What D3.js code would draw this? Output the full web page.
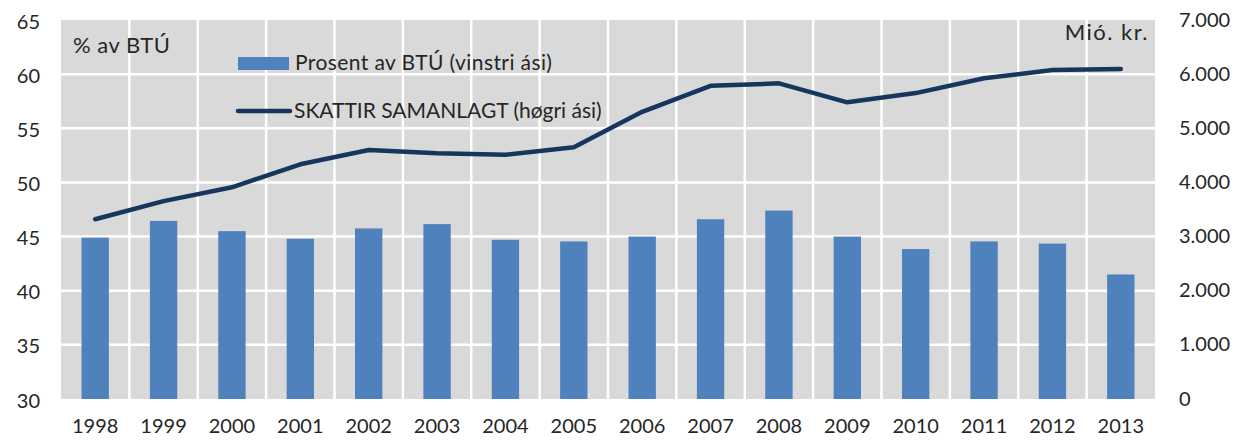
<!DOCTYPE html>
<meta charset="utf-8">
<head>
  <style>
    body { margin: 0; background: #fff; }
    text { font-family: Lato, "Open Sans", sans-serif; fill: #262626; }
  </style>
</head>
<body>
  <div class="chart"></div>
  <script src="https://d3js.org/d3.v7.min.js"></script>
  <script>
    // ár
    var years = ["1998", "1999", "2000", "2001", "2002", "2003", "2004", "2005",
      "2006", "2007", "2008", "2009", "2010", "2011", "2012", "2013"];
    // Prosent av BTÚ (vinstri ási)
    var prosent = [44.9, 46.45, 45.5, 44.8, 45.75, 46.15, 44.7, 44.55,
      45.0, 46.6, 47.4, 45.0, 43.85, 44.55, 44.35, 41.5];
    // SKATTIR SAMANLAGT (høgri ási), mió. kr.
    var skattir = [3320, 3655, 3910, 4335, 4600, 4540, 4510, 4650,
      5305, 5785, 5830, 5480, 5650, 5925, 6075, 6095];
    var leftTicks = [30, 35, 40, 45, 50, 55, 60, 65];
    var rightTicks = [0, 1000, 2000, 3000, 4000, 5000, 6000, 7000];

    var width = 1246, height = 443;
    var margin = { top: 20, right: 91, bottom: 44, left: 61 };
    var innerW = width - margin.left - margin.right;
    var innerH = height - margin.top - margin.bottom;

    var svg = d3.select(".chart").append("svg")
      .attr("width", width)
      .attr("height", height);

    var g = svg.append("g")
      .attr("transform", "translate(" + margin.left + "," + margin.top + ")");

    var xCat = d3.scaleBand().domain(years).range([0, innerW]);
    var yL = d3.scaleLinear().domain([30, 65]).range([innerH, 0]);
    var yR = d3.scaleLinear().domain([0, 7000]).range([innerH, 0]);

    // bakgrunnur
    g.append("rect")
      .attr("width", innerW)
      .attr("height", innerH)
      .attr("fill", "#d9d9d9");

    // gridlinjur
    g.selectAll(".hgrid")
      .data(leftTicks.slice(1, -1))
      .enter().append("line")
      .attr("x1", 0).attr("x2", innerW)
      .attr("y1", d => yL(d)).attr("y2", d => yL(d))
      .attr("stroke", "#fff").attr("stroke-width", 2.5);

    g.selectAll(".vgrid")
      .data(years.slice(1))
      .enter().append("line")
      .attr("x1", d => xCat(d)).attr("x2", d => xCat(d))
      .attr("y1", 0).attr("y2", innerH)
      .attr("stroke", "#fff").attr("stroke-width", 2.5);

    // súlur
    var barW = xCat.bandwidth() / 2.5;
    g.selectAll(".bar")
      .data(years)
      .enter().append("rect")
      .attr("x", d => xCat(d) + (xCat.bandwidth() - barW) / 2)
      .attr("width", barW)
      .attr("y", (d, i) => yL(prosent[i]))
      .attr("height", (d, i) => innerH - yL(prosent[i]))
      .attr("fill", "#4f81bd");

    // linja
    var line = d3.line()
      .x((d, i) => xCat(years[i]) + xCat.bandwidth() / 2)
      .y(d => yR(d));

    g.append("path")
      .datum(skattir)
      .attr("d", line)
      .attr("fill", "none")
      .attr("stroke", "#17365d")
      .attr("stroke-width", 4.5)
      .attr("stroke-linecap", "round")
      .attr("stroke-linejoin", "round");

    // ásar
    var axisL = d3.axisLeft(yL).tickValues(leftTicks).tickSize(0).tickPadding(21);
    g.append("g").call(axisL)
      .call(a => a.select(".domain").remove())
      .selectAll("text").style("font-size", "20px").attr("dy", "0.4em");

    var axisR = d3.axisRight(yR).tickValues(rightTicks).tickSize(0).tickPadding(24)
      .tickFormat(d => d3.format(",")(d).replace(/,/g, "."));
    g.append("g").attr("transform", "translate(" + innerW + ",0)").call(axisR)
      .call(a => a.select(".domain").remove())
      .selectAll("text").style("font-size", "20px").attr("dy", "0.3em");

    var axisB = d3.axisBottom(xCat).tickSize(0).tickPadding(20);
    g.append("g").attr("transform", "translate(0," + innerH + ")").call(axisB)
      .call(a => a.select(".domain").remove())
      .selectAll("text").style("font-size", "20px");

    // ásheiti
    g.append("text")
      .attr("x", 12).attr("y", 33)
      .style("font-size", "22px")
      .style("letter-spacing", "0.5px")
      .text("% av BTÚ");

    g.append("text")
      .attr("x", innerW - 6).attr("y", 20)
      .attr("text-anchor", "end")
      .style("font-size", "22px")
      .style("letter-spacing", "1.5px")
      .text("Mió. kr.");

    // tekstur
    var legend = g.append("g").attr("transform", "translate(177,0)");
    legend.append("rect")
      .attr("x", 0).attr("y", 37).attr("width", 51).attr("height", 13)
      .attr("fill", "#4f81bd");
    legend.append("text")
      .attr("x", 57).attr("y", 50)
      .style("font-size", "21px")
      .style("letter-spacing", "0.4px")
      .text("Prosent av BTÚ (vinstri ási)");
    legend.append("line")
      .attr("x1", 0).attr("x2", 52).attr("y1", 91).attr("y2", 91)
      .attr("stroke", "#17365d").attr("stroke-width", 4.5)
      .attr("stroke-linecap", "round");
    legend.append("text")
      .attr("x", 56).attr("y", 98)
      .style("font-size", "21px")
      .text("SKATTIR SAMANLAGT (høgri ási)");
  </script>
</body>
